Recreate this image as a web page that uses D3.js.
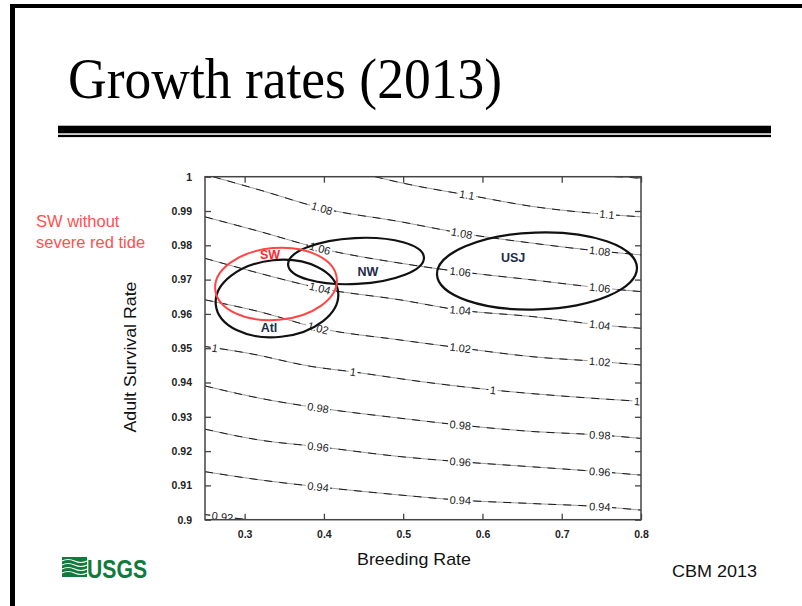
<!DOCTYPE html>
<html>
<head>
<meta charset="utf-8">
<script src="https://cdn.jsdelivr.net/npm/d3@7"></script>
<style>
  html, body { margin: 0; padding: 0; background: #fff; }
  svg { display: block; }
</style>
</head>
<body>
<svg id="slide" width="802" height="606"></svg>
<script>
// ---- Axis ticks ----
const breedingTicks = [0.3, 0.4, 0.5, 0.6, 0.7, 0.8];
const breedingTickLabels = ["0.3", "0.4", "0.5", "0.6", "0.7", "0.8"];
const survivalTicks = [0.9, 0.91, 0.92, 0.93, 0.94, 0.95, 0.96, 0.97, 0.98, 0.99, 1.0];
const survivalTickLabels = ["0.9", "0.91", "0.92", "0.93", "0.94", "0.95", "0.96", "0.97", "0.98", "0.99", "1"];

// ---- Growth-rate (lambda) iso-lines, points are [breeding rate, adult survival] ----
const contourLevels = ["1.12", "1.1", "1.08", "1.06", "1.04", "1.02", "1", "0.98", "0.96", "0.94", "0.92"];
const lambda112 = [[0.767, 1.0], [0.799, 0.9995], [0.8, 0.9994]];
const lambda110 = [[0.4645, 1.0], [0.496, 0.9983], [0.5212, 0.9971], [0.5805, 0.9947], [0.6638, 0.9913], [0.7571, 0.9890], [0.8, 0.9883]];
const lambda108 = [[0.2601, 1.0], [0.3194, 0.9961], [0.3976, 0.9908], [0.496, 0.9869], [0.5742, 0.9835], [0.6638, 0.9806], [0.7483, 0.9783], [0.8, 0.9772]];
const lambda106 = [[0.25, 0.9883], [0.3194, 0.9840], [0.3951, 0.9791], [0.496, 0.9748], [0.5717, 0.9723], [0.6638, 0.9699], [0.7483, 0.9676], [0.8, 0.9665]];
const lambda104 = [[0.25, 0.9762], [0.3194, 0.9718], [0.3951, 0.9675], [0.496, 0.9641], [0.5717, 0.9611], [0.6638, 0.9592], [0.7483, 0.9568], [0.8, 0.9558]];
const lambda102 = [[0.25, 0.9641], [0.3194, 0.9606], [0.3926, 0.9559], [0.496, 0.9524], [0.5717, 0.9501], [0.6638, 0.9475], [0.7483, 0.9461], [0.8, 0.9451]];
const lambda100 = [[0.25, 0.9505], [0.303, 0.9486], [0.3862, 0.9446], [0.4367, 0.9431], [0.5212, 0.9403], [0.6133, 0.9378], [0.6978, 0.9361], [0.8, 0.9345]];
const lambda098 = [[0.25, 0.9390], [0.3194, 0.9354], [0.3926, 0.9326], [0.496, 0.9296], [0.5717, 0.9276], [0.6638, 0.9257], [0.7483, 0.9247], [0.8, 0.9237]];
const lambda096 = [[0.25, 0.9264], [0.3194, 0.9232], [0.3926, 0.9213], [0.496, 0.9184], [0.5717, 0.9169], [0.6638, 0.9154], [0.7483, 0.9140], [0.8, 0.9130]];
const lambda094 = [[0.25, 0.9140], [0.3194, 0.9116], [0.3926, 0.9096], [0.496, 0.9072], [0.5717, 0.9057], [0.6638, 0.9047], [0.7483, 0.9038], [0.8, 0.9028]];
const lambda092 = [[0.25, 0.9015], [0.2815, 0.9006], [0.3068, 0.9]];
const contourLines = [lambda112, lambda110, lambda108, lambda106, lambda104, lambda102, lambda100, lambda098, lambda096, lambda094, lambda092];
// breeding rates at which each iso-line carries its inline label
const contourLabelAt = [
  [], [0.5805, 0.757], [0.3976, 0.574, 0.748], [0.395, 0.572, 0.748],
  [0.395, 0.572, 0.748], [0.3926, 0.572, 0.748], [0.2626, 0.4367, 0.6133, 0.795],
  [0.3926, 0.572, 0.748], [0.3926, 0.572, 0.748], [0.3926, 0.572, 0.748], [0.272]
];

// ---- Population estimates (ellipses in breeding / survival units) ----
const regionNames = ["Atl", "NW", "USJ", "SW"];
const regionBreeding = [0.3408, 0.4405, 0.6688, 0.3396];
const regionSurvival = [0.96449, 0.97542, 0.97251, 0.96872];
const regionBreedingHalf = [0.0776, 0.0858, 0.1262, 0.0770];
const regionSurvivalHalf = [0.01122, 0.0067, 0.01122, 0.0105];
const regionTilt = [-6, -3, -2, -5];
const regionLabelBreeding = [0.3307, 0.4556, 0.6386, 0.332];
const regionLabelSurvival = [0.9559, 0.9722, 0.9763, 0.9772];

const svg = d3.select("#slide");

// ---- Slide frame ----
svg.append("rect").attr("x", 10).attr("y", 4).attr("width", 792).attr("height", 4).attr("fill", "#000");
svg.append("rect").attr("x", 10).attr("y", 4).attr("width", 5).attr("height", 602).attr("fill", "#000");

svg.append("text")
  .attr("x", 68).attr("y", 97.5)
  .attr("font-family", "'Liberation Serif', 'Times New Roman', serif")
  .attr("font-size", 57)
  .attr("textLength", 434).attr("lengthAdjust", "spacingAndGlyphs")
  .attr("fill", "#000")
  .text("Growth rates (2013)");

svg.append("rect").attr("x", 58).attr("y", 125.7).attr("width", 713).attr("height", 7.6).attr("fill", "#000");
svg.append("rect").attr("x", 58).attr("y", 134.8).attr("width", 713).attr("height", 2.3).attr("fill", "#000");

// ---- Scales ----
const x = d3.scaleLinear().domain([0.25, 0.8]).range([205, 641]);
const y = d3.scaleLinear().domain([0.9, 1.0]).range([519.7, 176.7]);

const plot = svg.append("g");
svg.append("defs").append("clipPath").attr("id", "plotClip")
  .append("rect").attr("x", 205).attr("y", 176.7).attr("width", 436).attr("height", 343);

// ---- Contours ----
const line = d3.line().x(d => x(d[0])).y(d => y(d[1])).curve(d3.curveMonotoneX);
const contourG = plot.append("g").attr("clip-path", "url(#plotClip)");
contourLines.forEach(pts => {
  contourG.append("path").attr("d", line(pts))
    .attr("fill", "none").attr("stroke", "#9a9a9a").attr("stroke-width", 1);
  contourG.append("path").attr("d", line(pts))
    .attr("fill", "none").attr("stroke", "#1a1a1a").attr("stroke-width", 1)
    .attr("stroke-dasharray", "8 7");
});

function survivalAt(pts, b) {
  for (let i = 0; i < pts.length - 1; i++) {
    const a = pts[i], c = pts[i + 1];
    if (b >= a[0] && b <= c[0]) {
      const t = (b - a[0]) / (c[0] - a[0]);
      return [a[1] + t * (c[1] - a[1]), (c[1] - a[1]) / (c[0] - a[0])];
    }
  }
  return [pts[pts.length - 1][1], 0];
}

const labelG = plot.append("g").attr("clip-path", "url(#plotClip)");
contourLines.forEach((pts, i) => {
  contourLabelAt[i].forEach(b => {
    const [s, slope] = survivalAt(pts, b);
    const px = x(b), py = y(s);
    const pxSlope = slope * (y(1) - y(0.9)) / 0.1 / ((x(0.8) - x(0.25)) / 0.55);
    const ang = Math.atan(pxSlope) * 180 / Math.PI;
    const g = labelG.append("g").attr("transform", `translate(${px},${py}) rotate(${ang})`);
    const bg = g.append("rect").attr("fill", "#fff");
    const t = g.append("text")
      .attr("text-anchor", "middle").attr("dominant-baseline", "central")
      .attr("font-family", "'Liberation Sans', Arial, sans-serif")
      .attr("font-size", 11).attr("fill", "#222")
      .text(contourLevels[i]);
    const w = t.node().getComputedTextLength();
    bg.attr("x", -w / 2 - 1.5).attr("y", -5).attr("width", w + 3).attr("height", 10);
  });
});

// ---- Plot box and ticks (pointing inward) ----
plot.append("rect").attr("x", 205).attr("y", 176.7).attr("width", 436).attr("height", 343)
  .attr("fill", "none").attr("stroke", "#444").attr("stroke-width", 1.5);

const tickLen = 6;
const tickFont = "'Liberation Sans', Arial, sans-serif";
const axL = plot.append("g").attr("transform", "translate(205,0)")
  .call(d3.axisLeft(y).tickValues(survivalTicks).tickSize(-tickLen).tickPadding(tickLen + 7)
    .tickFormat((d, i) => survivalTickLabels[i]));
const axR = plot.append("g").attr("transform", "translate(641,0)")
  .call(d3.axisRight(y).tickValues(survivalTicks).tickSize(-tickLen).tickFormat(""));
const axB = plot.append("g").attr("transform", "translate(0,519.7)")
  .call(d3.axisBottom(x).tickValues(breedingTicks).tickSize(-tickLen).tickPadding(tickLen + 5)
    .tickFormat((d, i) => breedingTickLabels[i]));
const axT = plot.append("g").attr("transform", "translate(0,176.7)")
  .call(d3.axisTop(x).tickValues(breedingTicks).tickSize(-tickLen).tickFormat(""));
[axL, axR, axB, axT].forEach(a => {
  a.select(".domain").remove();
  a.selectAll(".tick line").attr("stroke", "#444").attr("stroke-width", 1.3);
  a.selectAll("text").attr("font-family", tickFont).attr("font-size", 10.5)
    .attr("font-weight", "bold").attr("fill", "#222");
});

// ---- Population ellipses ----
const order = [0, 1, 2, 3];
order.forEach(i => {
  const cx = x(regionBreeding[i]), cy = y(regionSurvival[i]);
  const rx = x(regionBreeding[i] + regionBreedingHalf[i]) - cx;
  const ry = cy - y(regionSurvival[i] + regionSurvivalHalf[i]);
  const isSW = regionNames[i] === "SW";
  plot.append("ellipse")
    .attr("cx", cx).attr("cy", cy).attr("rx", rx).attr("ry", ry)
    .attr("transform", `rotate(${regionTilt[i]},${cx},${cy})`)
    .attr("fill", "none")
    .attr("stroke", isSW ? "#ff4646" : "#111")
    .attr("stroke-width", isSW ? 2 : 2.2);
});
order.forEach(i => {
  const isSW = regionNames[i] === "SW";
  plot.append("text")
    .attr("x", x(regionLabelBreeding[i])).attr("y", y(regionLabelSurvival[i]))
    .attr("text-anchor", "middle").attr("dominant-baseline", "central")
    .attr("font-family", tickFont).attr("font-size", 12.5).attr("font-weight", "bold")
    .attr("fill", isSW ? "#ff2a2a" : "#1d2c48")
    .text(regionNames[i]);
});

// ---- Axis titles ----
svg.append("text")
  .attr("transform", "translate(136,357) rotate(-90)")
  .attr("text-anchor", "middle")
  .attr("font-family", tickFont).attr("font-size", 17)
  .attr("textLength", 151).attr("lengthAdjust", "spacingAndGlyphs")
  .attr("fill", "#111")
  .text("Adult Survival Rate");

svg.append("text")
  .attr("x", 357).attr("y", 565)
  .attr("font-family", tickFont).attr("font-size", 17)
  .attr("textLength", 114).attr("lengthAdjust", "spacingAndGlyphs")
  .attr("fill", "#111")
  .text("Breeding Rate");

// ---- Side note ----
const note = svg.append("text")
  .attr("font-family", tickFont).attr("font-size", 16.5).attr("fill", "#ff5050");
note.append("tspan").attr("x", 36).attr("y", 227).text("SW without");
note.append("tspan").attr("x", 36).attr("y", 248).text("severe red tide");

// ---- Footer ----
const logo = svg.append("g");
logo.append("rect").attr("x", 62).attr("y", 557).attr("width", 25).attr("height", 20).attr("fill", "#117a3d");
[561, 565, 569, 573].forEach(yy => {
  logo.append("path")
    .attr("d", `M62,${yy} q6,-3 12.5,0 t12.5,0`)
    .attr("fill", "none").attr("stroke", "#fff").attr("stroke-width", 1.1);
});
logo.append("text")
  .attr("x", 87).attr("y", 577.5)
  .attr("font-family", "'Liberation Sans Narrow', 'Arial Narrow', 'Liberation Sans', Arial, sans-serif")
  .attr("font-size", 26).attr("font-weight", "bold")
  .attr("textLength", 60).attr("lengthAdjust", "spacingAndGlyphs")
  .attr("fill", "#117a3d")
  .text("USGS");

svg.append("text")
  .attr("x", 672).attr("y", 577)
  .attr("font-family", tickFont).attr("font-size", 17)
  .attr("textLength", 85).attr("lengthAdjust", "spacingAndGlyphs")
  .attr("fill", "#111")
  .text("CBM 2013");
</script>
</body>
</html>
